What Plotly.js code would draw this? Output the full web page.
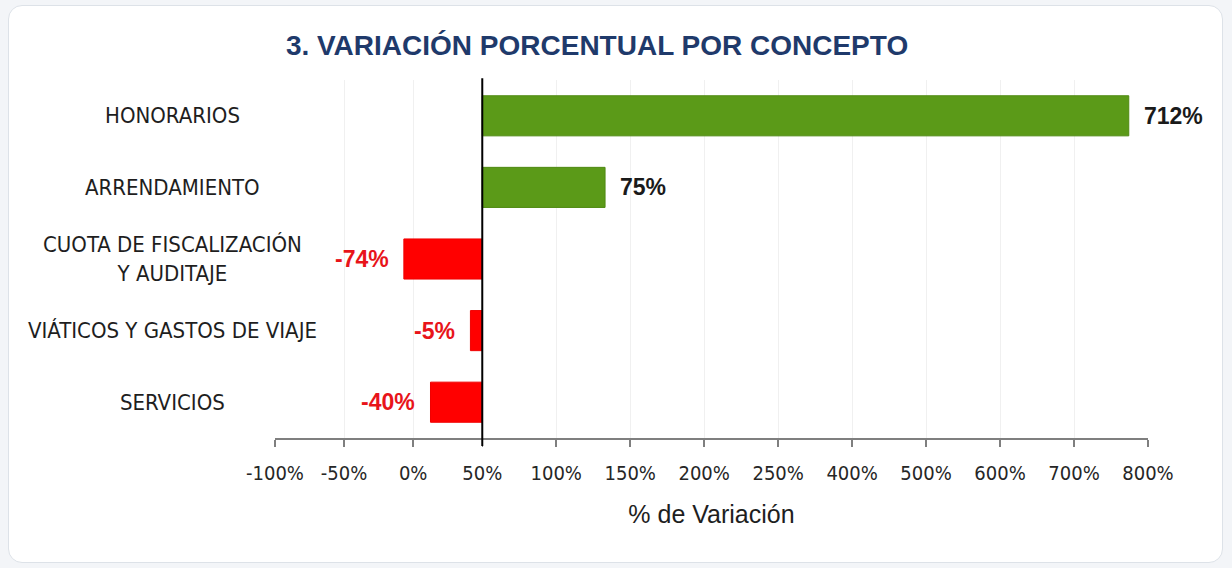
<!DOCTYPE html>
<html>
<head>
<meta charset="utf-8">
<script src="https://cdn.plot.ly/plotly-3.0.1.min.js"></script>
<style>
  html, body { margin: 0; padding: 0; background: #f3f5f8; width: 1232px; height: 568px; overflow: hidden; }
  #card { position: absolute; left: 8px; top: 5px; width: 1215px; height: 558px; background: #ffffff;
          border: 1.5px solid #dde2e8; border-radius: 14px; box-sizing: border-box; }
  #chart { position: absolute; left: 0; top: 0; width: 1232px; height: 568px; }
</style>
</head>
<body>
<div id="card"></div>
<div id="chart"></div>
<script>
// ---- data ----
const categories = [
  'HONORARIOS',
  'ARRENDAMIENTO',
  'CUOTA DE FISCALIZACIÓN<br>Y AUDITAJE',
  'VIÁTICOS Y GASTOS DE VIAJE',
  'SERVICIOS'
];
// percentage variation printed next to each bar
const variationPct = [712, 75, -74, -5, -40];
// bar extent as drawn against the chart's own axis (axis units, 50 per tick step)
const barExtent = [437, 83, -53, -8, -35];
// x-axis tick labels exactly as printed
const tickLabels = ['-100%', '-50%', '0%', '50%', '100%', '150%', '200%', '250%',
                    '400%', '500%', '600%', '700%', '800%'];

// ---- styling ----
const COND = '"DejaVu Sans Condensed", "Liberation Sans Narrow", "Arial Narrow", sans-serif';
const ARIAL = '"Liberation Sans", Arial, sans-serif';
const GREEN = '#5b9a18', RED = '#ff0000';

const zeroIdx = tickLabels.indexOf('50%');
const tickvals = tickLabels.map((_, i) => i < zeroIdx ? (i - zeroIdx) * 46.7 : (i - zeroIdx) * 50);

const trace = {
  type: 'bar',
  orientation: 'h',
  y: categories,
  x: barExtent,
  marker: {
    color: barExtent.map(v => v >= 0 ? GREEN : RED),
    line: { color: barExtent.map(v => v >= 0 ? '#4f8a12' : '#f00000'), width: 1 }
  },
  hoverinfo: 'skip',
  cliponaxis: false
};

const annotations = [];
categories.forEach((c, i) => {
  annotations.push({
    xref: 'paper', yref: 'y', x: -0.117, y: c,
    text: c, showarrow: false, xanchor: 'center', yanchor: 'middle', align: 'center',
    font: { family: COND, size: 22, color: '#1e1e1e' }
  });
  const v = barExtent[i];
  annotations.push({
    xref: 'x', yref: 'y', x: v, y: c,
    text: variationPct[i] + '%', showarrow: false,
    xanchor: v >= 0 ? 'left' : 'right', yanchor: 'middle',
    xshift: v >= 0 ? 13 : -13, yshift: 0,
    font: { family: ARIAL, size: 23, weight: 'bold', color: v >= 0 ? '#1a1a1a' : '#e8141a' }
  });
});

const layout = {
  width: 1232, height: 568,
  margin: { l: 275, r: 84, t: 80, b: 130 },
  paper_bgcolor: 'rgba(0,0,0,0)',
  plot_bgcolor: 'rgba(0,0,0,0)',
  showlegend: false,
  bargap: 0.44,
  title: {
    text: '3. VARIACIÓN PORCENTUAL POR CONCEPTO',
    xref: 'container', yref: 'container',
    x: 0.4846, xanchor: 'center', y: 0.921, yanchor: 'middle',
    font: { family: ARIAL, size: 28, weight: 'bold', color: '#1f3a6b' }
  },
  xaxis: {
    range: [tickvals[0], tickvals[tickvals.length - 1]],
    tickmode: 'array', tickvals: tickvals, ticktext: tickLabels,
    showgrid: true, gridcolor: '#f0f0f0', gridwidth: 1,
    zeroline: false,
    showline: true, linecolor: '#7f7f7f', linewidth: 1.5,
    ticks: 'outside', ticklen: 7, tickcolor: '#7f7f7f', tickwidth: 1.5,
    ticklabelstandoff: 9,
    tickfont: { family: COND, size: 20, color: '#262626' },
    title: { text: '% de Variación', standoff: 22, font: { family: ARIAL, size: 25, color: '#1e1e1e' } },
    fixedrange: true
  },
  yaxis: {
    type: 'category',
    autorange: 'reversed',
    showticklabels: false, showgrid: false, zeroline: false, showline: false, ticks: '',
    fixedrange: true
  },
  shapes: [{
    type: 'line', xref: 'x', yref: 'paper', x0: 0, x1: 0, y0: -0.022, y1: 1.005,
    line: { color: '#000000', width: 2 }
  }],
  annotations: annotations
};

Plotly.newPlot('chart', [trace], layout, { staticPlot: true, displayModeBar: false });
</script>
</body>
</html>
